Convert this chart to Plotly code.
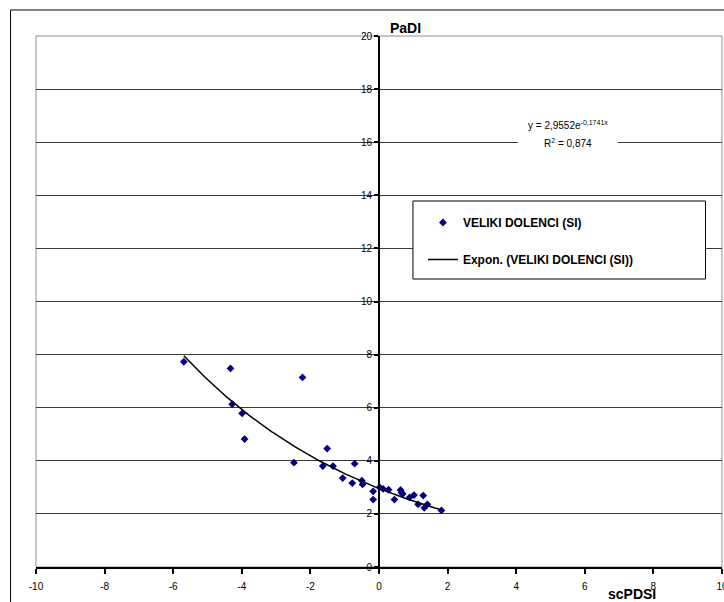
import numpy as np
import plotly.graph_objects as go

# Data
scpdsi = [-5.69, -4.33, -4.28, -3.99, -3.92, -2.48, -2.23, -1.64, -1.51, -1.34,
          -1.06, -0.78, -0.71, -0.50, -0.48, -0.17, -0.17, 0.02, 0.12, 0.28,
          0.45, 0.63, 0.66, 0.69, 0.89, 1.02, 1.14, 1.29, 1.32, 1.41, 1.82]
padi = [7.73, 7.48, 6.13, 5.79, 4.82, 3.93, 7.14, 3.80, 4.46, 3.80,
        3.35, 3.16, 3.89, 3.25, 3.11, 2.85, 2.54, 3.00, 2.94, 2.91,
        2.54, 2.90, 2.80, 2.75, 2.62, 2.71, 2.36, 2.69, 2.23, 2.36, 2.13]

# Exponential trendline as printed on the chart
trend_a = 2.9552
trend_b = -0.1741
r_squared = "0,874"

x_ticks = [-10, -8, -6, -4, -2, 0, 2, 4, 6, 8, 10]
y_ticks = [0, 2, 4, 6, 8, 10, 12, 14, 16, 18, 20]

tx = np.linspace(min(scpdsi), max(scpdsi), 200)
ty = trend_a * np.exp(trend_b * tx)

FONT = "Liberation Sans, Arial, sans-serif"


def px_x(p):
    return (p - 35.5) / 687


def px_y(p):
    return (567 - p) / 531


fig = go.Figure()
fig.add_trace(go.Scatter(
    x=scpdsi, y=padi, mode="markers", name="VELIKI DOLENCI (SI)",
    marker=dict(symbol="diamond", size=6, color="#000080"),
    legendgroup="a",
))
fig.add_trace(go.Scatter(
    x=tx, y=ty, mode="lines", name="Expon. (VELIKI DOLENCI (SI))",
    line=dict(color="black", width=1.5),
    legendgroup="b",
))

fig.update_layout(
    width=724, height=602,
    margin=dict(l=35.5, r=1.5, t=36, b=35, autoexpand=False),
    paper_bgcolor="white", plot_bgcolor="white",
    font=dict(family=FONT, size=10, color="black"),
    xaxis=dict(
        range=[-10, 10], tickvals=x_ticks, ticktext=[str(v) for v in x_ticks],
        showgrid=False, zeroline=False,
        showline=True, linecolor="black", linewidth=2,
        ticks="outside", ticklen=5, tickwidth=1.5, tickcolor="black",
        tickfont=dict(size=10, family=FONT),
        ticklabelstandoff=4, ticklabeloverflow="allow",
    ),
    yaxis=dict(
        range=[0, 20], tickvals=y_ticks, ticktext=[str(v) for v in y_ticks],
        anchor="free", position=0.5,
        showgrid=True, gridcolor="#3a3a3a", gridwidth=1,
        zeroline=False,
        showline=True, linecolor="black", linewidth=2,
        ticks="outside", ticklen=4, tickwidth=1.5, tickcolor="black",
        tickfont=dict(size=10, family=FONT),
        ticklabeloverflow="allow",
    ),
    showlegend=True,
    legend=dict(
        x=px_x(423), y=px_y(208), xanchor="left", yanchor="top",
        bgcolor="rgba(0,0,0,0)", borderwidth=0,
        font=dict(family=FONT, size=12, color="black", weight="bold"),
        traceorder="grouped", tracegroupgap=18,
    ),
    shapes=[
        # outer chart frame
        dict(type="rect", xref="paper", yref="paper",
             x0=-0.0371, x1=1.2, y0=-0.3, y1=1.049,
             line=dict(color="black", width=1), fillcolor="rgba(0,0,0,0)", layer="below"),
        # plot area border
        dict(type="rect", xref="paper", yref="paper",
             x0=0, x1=1, y0=0, y1=1,
             line=dict(color="#909090", width=1), fillcolor="rgba(0,0,0,0)", layer="below"),
        # equation label background
        dict(type="rect", xref="paper", yref="paper",
             x0=px_x(518), x1=px_x(618), y0=px_y(153), y1=px_y(116),
             line=dict(width=0), fillcolor="white", layer="above"),
        # legend box
        dict(type="rect", xref="paper", yref="paper",
             x0=px_x(413), x1=px_x(706), y0=px_y(279), y1=px_y(201),
             line=dict(color="black", width=1), fillcolor="white", layer="above"),
    ],
    annotations=[
        dict(text="<b>PaDI</b>", xref="paper", yref="paper",
             x=px_x(388), y=px_y(28), xanchor="left", yanchor="middle",
             showarrow=False, font=dict(size=14, family=FONT)),
        dict(text="<b>scPDSI</b>", xref="paper", yref="paper",
             x=px_x(632), y=px_y(594), xanchor="center", yanchor="middle",
             showarrow=False, font=dict(size=14, family=FONT)),
        dict(text=f"y = {str(trend_a).replace('.', ',')}e<sup>{str(trend_b).replace('.', ',')}x</sup>",
             xref="paper", yref="paper", x=px_x(568), y=px_y(125), xanchor="center", yanchor="middle",
             showarrow=False, font=dict(size=10, family=FONT)),
        dict(text=f"R<sup>2</sup> = {r_squared}",
             xref="paper", yref="paper", x=px_x(568), y=px_y(143), xanchor="center", yanchor="middle",
             showarrow=False, font=dict(size=10, family=FONT)),
    ],
)

fig.write_html("out.html")
